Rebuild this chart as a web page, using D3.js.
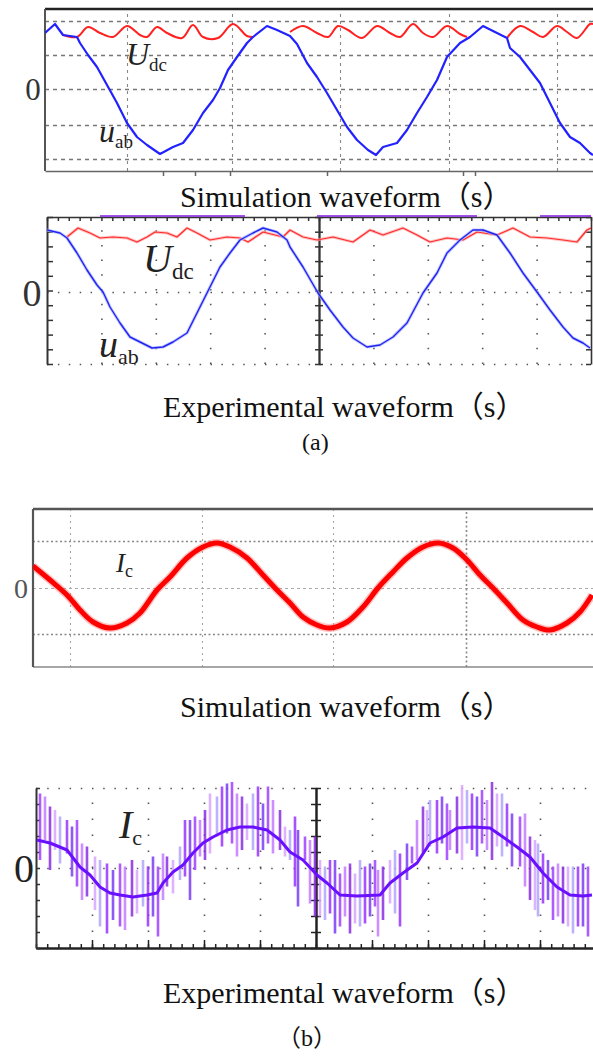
<!DOCTYPE html>
<html>
<head>
<meta charset="utf-8">
<script src="https://cdn.jsdelivr.net/npm/d3@7"></script>
<style>
  body { margin: 0; background: #fff; }
  svg { display: block; }
  .serif { font-family: "Liberation Serif", "DejaVu Serif", serif; }
  .cap { font-family: "Liberation Serif", "Noto Sans CJK SC", serif; fill: #111; }
</style>
</head>
<body>
<div id="chart"></div>
<script>
// ---- waveform samples (time in ms, voltage in V, current in A) ----

// (a) simulation: u_ab and U_dc
const uabSim = [[0,112],[1.0,130],[1.8,108],[3.2,104],[3.5,92],[4.3,68],[5.2,44],[6.2,8],[7.2,-28],[8.2,-68],
  [9.2,-96],[10.2,-112],[11.5,-130],[12.8,-116],[13.8,-108],[14.8,-82],[15.8,-48],[16.8,-22],[17.5,2],[18.3,38],
  [19.2,64],[20.2,92],[20.8,104],[22.2,126],[23.2,118],[24.5,106],[25.2,90],[26.2,52],[27.2,24],[28.2,-8],
  [29.2,-42],[30.2,-76],[31.2,-102],[32.3,-122],[33.1,-132],[33.8,-116],[35.2,-108],[36.2,-82],[37.2,-48],[38.2,-16],
  [39.2,18],[40.2,64],[41.5,92],[42.5,104],[43.8,126],[45.2,112],[46.2,102],[46.5,82],[47.5,64],[48.5,38],
  [49.5,12],[50.5,-28],[51.5,-68],[52.5,-96],[53.5,-108],[54.5,-128],[54.8,-132]];
const udcSim = [[1.8,108],[3.2,104],[4.3,124],[5.5,112],[6.8,104],[8.2,126],[9.5,108],[10.2,104],[11.2,124],[12.2,112],
  [13.7,102],[14.8,128],[15.8,104],[17.3,102],[18.8,130],[20.2,106],[20.8,104],[21.5,null],[24.5,114],[25.8,126],
  [27.2,112],[28.3,104],[29.3,126],[30.3,118],[31.7,102],[33.2,126],[34.5,112],[35.5,104],[36.8,130],[37.8,112],
  [38.8,104],[40.2,126],[41.5,110],[42.2,104],[44.0,null],[46.2,102],[47.5,126],[48.8,114],[49.8,104],[51.2,126],
  [52.2,114],[53.2,102],[54.5,130],[54.8,130]];

// (a) experiment: u_ab and U_dc
const uabExp = [[0,124],[1.3,118],[2.0,108],[3.0,78],[4.0,44],[5.0,14],[5.6,0],[6.3,-30],[7.3,-62],[8.3,-90],
  [9.3,-100],[10.5,-112],[11.6,-110],[12.6,-100],[14.0,-82],[15.0,-42],[16.3,10],[17.3,50],[18.3,78],[19.3,104],
  [20.6,118],[21.6,128],[23.0,120],[24.0,104],[24.3,90],[25.6,50],[27.1,-2],[28.3,-36],[29.6,-70],[30.6,-92],
  [32.0,-110],[33.3,-106],[34.6,-90],[36.0,-62],[37.6,-2],[39.0,38],[40.0,78],[41.3,104],[42.6,124],[43.6,124],
  [45.0,114],[46.3,78],[47.6,38],[49.0,0],[50.3,-36],[51.6,-70],[52.6,-92],[53.6,-102],[54.3,-112]];
const udcExp = [[2.0,110],[3.1,128],[4.3,118],[5.3,108],[6.6,110],[8.0,108],[9.0,100],[10.0,110],[10.8,120],[12.0,118],
  [13.0,110],[14.0,128],[15.0,118],[16.3,104],[18.0,110],[19.3,108],[20.1,100],[21.6,120],[23.6,110],[24.3,124],
  [25.6,110],[27.0,104],[28.6,110],[30.6,100],[32.3,124],[33.6,114],[35.6,128],[37.0,114],[38.3,100],[40.0,108],
  [41.6,104],[43.0,120],[45.0,114],[46.6,128],[48.3,110],[50.0,108],[51.6,104],[53.0,100],[54.0,124],[54.4,128]];
// clipped trace stuck on the top edge of the scope screen: [from, to]
const expTopClip = [[5.3,19.8],[27.0,43.0],[49.3,54.4]];

// (b) simulation: I_c
const icSim = [[0,4.4],[1.7,1.6],[3.4,-1.4],[4.7,-4.4],[6.0,-6.8],[7.7,-8.0],[9.4,-7.0],[10.7,-5.0],[12.4,-0.4],[13.7,2.2],
  [15.4,6.0],[17.0,8.2],[18.4,9.0],[19.7,8.2],[21.4,6.0],[23.0,2.6],[24.4,-0.4],[25.7,-3.0],[27.0,-5.8],[28.4,-7.4],
  [29.7,-8.0],[31.4,-6.8],[33.0,-3.8],[34.5,0],[36.0,3.2],[37.4,6.0],[39.0,8.2],[40.5,9.0],[42.0,8.0],[43.4,5.6],
  [44.7,2.6],[46.0,0],[47.4,-3.0],[49.0,-6.4],[50.4,-7.8],[51.7,-8.4],[53.4,-7.0],[54.7,-4.8],[55.9,-1.4]];

// (b) experiment: I_c mean trace and switching spikes [t, high, low]
const icExp = [[0.1,5.6],[1.4,5.0],[3.1,3.6],[4.4,0.2],[5.4,-1.4],[6.4,-3.8],[7.4,-5.0],[8.4,-5.4],[9.7,-5.8],[11.1,-5.4],
  [12.1,-5.0],[12.7,-3.0],[13.7,-0.8],[14.7,0.6],[15.7,3.0],[16.7,5.0],[17.7,6.2],[19.1,7.6],[20.4,8.2],[21.7,8.2],
  [23.1,7.6],[24.4,5.6],[25.4,3.2],[26.7,1.6],[28.1,-1.4],[29.1,-3.0],[30.4,-5.4],[32.1,-5.6],[34.4,-5.4],[35.4,-3.0],
  [36.7,-1.0],[38.1,1.0],[39.4,5.0],[40.7,6.2],[42.1,8.0],[43.7,8.2],[45.4,8.0],[46.7,6.2],[48.1,4.2],[49.4,2.2],
  [50.7,-1.0],[52.1,-3.8],[53.4,-5.4],[54.7,-5.6],[55.6,-5.4]];
const icExpSpikes = [[0.4,14.9,1.6],[0.9,14.3,5.6],[1.4,12.3,-0.4],[1.9,11.6,3.6],[2.4,10.3,0.9],[3.1,9.6,2.9],[3.6,8.3,-1.7],
  [4.1,9.6,-3.7],[4.6,4.9,-6.4],[5.1,4.3,-5.7],[5.9,2.3,-8.4],[6.4,1.6,-11.7],[7.1,0.9,-13.1],[7.7,-0.4,-10.4],
  [8.4,0.9,-11.7],[8.9,0.3,-12.4],[9.6,1.6,-9.7],[10.1,-0.4,-9.1],[10.7,1.6,-7.7],[11.2,0.3,-11.7],[11.7,2.3,-9.7],
  [12.2,0.3,-13.7],[12.7,2.9,-6.4],[13.1,2.3,-3.7],[13.7,1.6,-5.1],[14.4,4.3,-2.4],[14.9,9.6,-1.7],[15.4,9.6,-6.4],
  [15.9,10.3,-0.4],[16.4,9.6,2.3],[16.9,11.6,1.6],[17.4,14.9,2.9],[18.1,14.3,6.3],[18.6,16.3,4.3],[19.1,16.9,6.9],
  [19.6,17.6,4.9],[20.1,14.9,2.3],[20.6,14.3,3.6],[21.1,12.9,5.6],[21.7,14.9,3.6],[22.2,16.3,2.3],[22.7,12.9,3.6],
  [23.2,16.3,4.9],[23.7,13.6,2.9],[24.4,11.6,3.6],[24.9,8.3,2.3],[25.4,7.6,1.6],[25.9,10.3,-3.7],[26.2,7.6,-7.7],
  [26.9,6.3,1.6],[27.4,5.6,-7.1],[27.9,6.3,-9.7],[28.4,1.6,-9.7],[28.9,0.3,-10.4],[29.4,1.6,-9.1],[29.9,1.6,-13.1],
  [30.4,-1.1,-11.7],[30.9,0.3,-9.7],[31.4,0.9,-13.1],[31.9,-1.1,-11.1],[32.4,1.6,-11.7],[32.9,0.3,-11.1],[33.4,0.9,-9.7],
  [33.9,1.6,-7.7],[34.2,-0.4,-13.7],[34.7,0.3,-10.4],[35.4,1.6,-7.1],[35.9,3.6,-9.1],[36.4,2.9,-11.7],[37.1,4.9,-2.4],
  [37.6,4.3,0.9],[38.1,9.6,1.6],[38.7,12.3,2.9],[39.1,11.6,3.6],[39.4,13.6,4.3],[40.1,13.6,2.9],[40.6,14.3,4.9],
  [41.1,12.9,1.6],[41.4,11.6,3.6],[42.1,14.3,2.9],[42.6,16.6,1.6],[43.1,15.6,4.9],[43.6,14.9,3.6],[44.1,14.3,2.3],
  [44.6,15.6,4.9],[45.1,13.6,3.6],[45.6,17.3,1.6],[46.1,14.9,4.3],[46.6,14.9,2.3],[47.1,12.9,4.3],[47.6,10.9,0.3],
  [48.4,10.3,0.3],[48.9,10.9,-3.7],[49.4,6.3,-6.4],[49.9,5.6,-8.4],[50.2,4.9,-9.7],[50.7,2.9,-7.1],[51.2,1.6,-6.4],
  [51.7,0.3,-10.4],[52.2,0.9,-9.7],[52.7,0.3,-11.1],[53.2,0.3,-11.7],[53.7,0.3,-13.1],[54.2,0.3,-11.7],[54.7,0.9,-11.7],
  [55.2,0.3,-13.7]];

// grid positions
const gridSimA_T = [8.2, 18.7, 29.5, 40.4, 51.2];
const gridSimA_V = [-140, -72, 0, 68, 136];
const gridExpA_T = [5.44, 10.88, 16.32, 21.76, 32.64, 38.08, 43.52, 48.96];
const gridSimB_T = [3.7, 16.9, 30.0];
const gridSimB_T2 = [43.3];
const gridSimB_I = [-9.2, 9.4];
const gridExpB_T = [5.6, 11.2, 16.8, 22.4, 33.6, 39.2, 44.8, 50.4];
const simA_AxisTicks = [11.8, 15.0, 18.5, 28.2, 41.8, 43.0];

const captions = [
  { text: "Simulation waveform（s）", x: 180, y: 207, size: 30 },
  { text: "Experimental waveform（s）", x: 163, y: 417, size: 30 },
  { text: "(a)", x: 302, y: 450, size: 24 },
  { text: "Simulation waveform（s）", x: 180, y: 717, size: 30 },
  { text: "Experimental waveform（s）", x: 163, y: 1003, size: 30 },
  { text: "（b）", x: 277, y: 1046, size: 24 }
];

const spikeColors = ["#a040ff", "#c47aff", "#8a2be2", "#d7a6ff", "#b0a6ff", "#9933ff", "#7a3cf5"];

const W = 593, H = 1059;
const svg = d3.select("#chart").append("svg").attr("width", W).attr("height", H);
let clipN = 0;

function panel(box, xDomain, yDomain) {
  const x = d3.scaleLinear().domain(xDomain).range([box.left, box.right]);
  const y = d3.scaleLinear().domain(yDomain).range([box.bottom, box.top]);
  const id = "clip" + (++clipN);
  svg.append("clipPath").attr("id", id).append("rect")
    .attr("x", box.left).attr("y", box.top - 6)
    .attr("width", box.right - box.left).attr("height", box.bottom - box.top + 12);
  return { x, y, box, clip: `url(#${id})` };
}

function vGrid(p, values, color, dash, width) {
  svg.append("g")
    .attr("transform", `translate(0,${p.box.bottom})`)
    .call(d3.axisBottom(p.x).tickValues(values).tickSize(-(p.box.bottom - p.box.top)).tickFormat(""))
    .call(g => g.select(".domain").remove())
    .selectAll("line").attr("stroke", color).attr("stroke-dasharray", dash).attr("stroke-width", width);
}

function hGrid(p, values, color, dash, width) {
  svg.append("g")
    .attr("transform", `translate(${p.box.left},0)`)
    .call(d3.axisLeft(p.y).tickValues(values).tickSize(-(p.box.right - p.box.left)).tickFormat(""))
    .call(g => g.select(".domain").remove())
    .selectAll("line").attr("stroke", color).attr("stroke-dasharray", dash).attr("stroke-width", width);
}

function trace(p, data, color, width, opacity, curve) {
  svg.append("path")
    .datum(data)
    .attr("clip-path", p.clip)
    .attr("fill", "none")
    .attr("stroke", color)
    .attr("stroke-width", width)
    .attr("stroke-opacity", opacity || 1)
    .attr("stroke-linejoin", "round")
    .attr("d", d3.line().defined(d => d[1] !== null).curve(curve || d3.curveLinear)
      .x(d => p.x(d[0])).y(d => p.y(d[1])));
}

function styleAxis(g, color, width) {
  g.select(".domain").attr("stroke", color).attr("stroke-width", width);
  g.selectAll(".tick line").attr("stroke", color).attr("stroke-width", 1.5);
}

function label(x, y, main, sub, size, subSize, color) {
  const t = svg.append("text").attr("class", "serif").attr("x", x).attr("y", y).attr("fill", color || "#222");
  t.append("tspan").attr("font-style", "italic").attr("font-size", size).text(main);
  if (sub) t.append("tspan").attr("font-size", subSize).attr("dy", subSize * 0.3).text(sub);
}

// ---------------- (a) simulation ----------------
const p1 = panel({ left: 45, right: 593, top: 9, bottom: 171 }, [0, 54.8], [-164, 160]);
hGrid(p1, gridSimA_V, "#777", "4,4", 1.3);
vGrid(p1, gridSimA_T, "#888", "3,4", 1.1);
svg.append("g")
  .attr("transform", `translate(0,${p1.box.bottom})`)
  .call(d3.axisBottom(p1.x).tickValues(simA_AxisTicks).tickSize(5).tickSizeOuter(0).tickFormat(""))
  .call(g => styleAxis(g, "#666", 1.5));
svg.append("line").attr("x1", 45).attr("x2", 593).attr("y1", 9).attr("y2", 9).attr("stroke", "#222").attr("stroke-width", 2.5);
svg.append("line").attr("x1", 45).attr("x2", 45).attr("y1", 9).attr("y2", 171).attr("stroke", "#555").attr("stroke-width", 2);
trace(p1, udcSim, "#ff2020", 2, 1, d3.curveCatmullRom);
trace(p1, uabSim, "#2222ff", 2.2);
svg.append("text").attr("class", "serif").attr("x", 33).attr("y", p1.y(0) + 11).attr("text-anchor", "middle")
  .attr("font-size", 31).attr("fill", "#333").text("0");
label(126, 65, "U", "dc", 32, 19);
label(99, 142, "u", "ab", 32, 19);

// ---------------- (a) experiment ----------------
const p2 = panel({ left: 47, right: 591, top: 217, bottom: 364 }, [0, 54.4], [-144, 150]);
vGrid(p2, gridExpA_T, "#555", "1.5,13.2", 1.6);
hGrid(p2, [0, -144], "#555", "1.5,9.4", 1.6);
const minorT2 = d3.range(0, 54.41, 1.088);
const minorV2 = d3.range(-144, 150.1, 29.4);
svg.append("g").attr("transform", `translate(0,${p2.box.top})`)
  .call(d3.axisBottom(p2.x).tickValues(minorT2).tickSize(4).tickSizeOuter(0).tickFormat(""))
  .call(g => styleAxis(g, "#333", 1.6));
svg.append("g").attr("transform", `translate(${p2.box.left},0)`)
  .call(d3.axisRight(p2.y).tickValues(minorV2).tickSize(6).tickSizeOuter(0).tickFormat(""))
  .call(g => styleAxis(g, "#333", 2));
svg.append("g").attr("transform", `translate(${p2.box.right},0)`)
  .call(d3.axisLeft(p2.y).tickValues(minorV2).tickSize(5).tickSizeOuter(0).tickFormat(""))
  .call(g => styleAxis(g, "#333", 1.6));
[d3.axisLeft, d3.axisRight].forEach(ax => {
  svg.append("g").attr("transform", `translate(${p2.x(27.2)},0)`)
    .call(ax(p2.y).tickValues(minorV2).tickSize(4).tickSizeOuter(0).tickFormat(""))
    .call(g => styleAxis(g, "#333", 1.8));
});
svg.append("g").selectAll("line").data(expTopClip).join("line")
  .attr("x1", d => p2.x(d[0])).attr("x2", d => p2.x(d[1]))
  .attr("y1", p2.y(152)).attr("y2", p2.y(152))
  .attr("stroke", "#8a2be2").attr("stroke-width", 2).attr("stroke-opacity", 0.8);
trace(p2, udcExp, "#ff9a9a", 3, 0.6);
trace(p2, udcExp, "#ff2a2a", 1.2);
trace(p2, uabExp, "#a8b4ff", 3.2, 0.7);
trace(p2, uabExp, "#2323f0", 1.4);
svg.append("text").attr("class", "serif").attr("x", 32).attr("y", p2.y(0) + 14).attr("text-anchor", "middle")
  .attr("font-size", 38).attr("fill", "#333").text("0");
label(143, 272, "U", "dc", 40, 23);
label(99, 357, "u", "ab", 38, 22);

// ---------------- (b) simulation ----------------
const p3 = panel({ left: 33, right: 593, top: 509, bottom: 667 }, [0, 56], [-15.8, 15.8]);
hGrid(p3, gridSimB_I, "#888", "2,2.5", 1.5);
hGrid(p3, [0], "#aaa", "3,3", 1.1);
vGrid(p3, gridSimB_T, "#aaa", "2,4", 1.1);
vGrid(p3, gridSimB_T2, "#888", "2,2.5", 1.6);
svg.append("line").attr("x1", 33).attr("x2", 593).attr("y1", 509).attr("y2", 509).attr("stroke", "#555").attr("stroke-width", 2.5);
svg.append("line").attr("x1", 33).attr("x2", 593).attr("y1", 667).attr("y2", 667).attr("stroke", "#888").attr("stroke-width", 1.5);
svg.append("line").attr("x1", 33).attr("x2", 33).attr("y1", 509).attr("y2", 667).attr("stroke", "#555").attr("stroke-width", 2.2);
trace(p3, icSim, "#ff5050", 8, 0.35, d3.curveCatmullRom);
trace(p3, icSim, "#ff0000", 5, 1, d3.curveCatmullRom);
svg.append("text").attr("class", "serif").attr("x", 21).attr("y", p3.y(0) + 10).attr("text-anchor", "middle")
  .attr("font-size", 28).attr("fill", "#555").text("0");
label(116, 572, "I", "c", 27, 18);

// ---------------- (b) experiment ----------------
const p4 = panel({ left: 36, right: 596, top: 788, bottom: 948 }, [0, 56], [-16, 16]);
vGrid(p4, gridExpB_T, "#555", "1.5,14.5", 1.6);
hGrid(p4, [0, 16], "#555", "1.5,9.7", 1.6);
const minorT4 = d3.range(0, 56.1, 1.12);
const minorI4 = d3.range(-16, 16.1, 3.2);
svg.append("g").attr("transform", `translate(0,${p4.box.bottom})`)
  .call(d3.axisTop(p4.x).tickValues(minorT4).tickSize(4).tickSizeOuter(0).tickFormat(""))
  .call(g => styleAxis(g, "#222", 2));
svg.append("g").attr("transform", `translate(0,${p4.box.bottom})`)
  .call(d3.axisTop(p4.x).tickValues(gridExpB_T).tickSize(8).tickSizeOuter(0).tickFormat(""))
  .call(g => styleAxis(g, "#222", 2));
svg.append("g").attr("transform", `translate(${p4.box.left},0)`)
  .call(d3.axisRight(p4.y).tickValues(minorI4).tickSize(4).tickSizeOuter(0).tickFormat(""))
  .call(g => styleAxis(g, "#333", 2));
[d3.axisLeft, d3.axisRight].forEach(ax => {
  svg.append("g").attr("transform", `translate(${p4.x(28)},0)`)
    .call(ax(p4.y).tickValues(minorI4).tickSize(5).tickSizeOuter(0).tickFormat(""))
    .call(g => styleAxis(g, "#222", 2));
});
svg.append("g").attr("clip-path", p4.clip)
  .selectAll("line").data(icExpSpikes).join("line")
  .attr("x1", d => p4.x(d[0])).attr("x2", d => p4.x(d[0]))
  .attr("y1", d => p4.y(d[1])).attr("y2", d => p4.y(d[2]))
  .attr("stroke", (d, i) => spikeColors[i % spikeColors.length])
  .attr("stroke-width", 2.6)
  .attr("stroke-opacity", 0.85);
trace(p4, icExp, "#6a10ff", 3);
svg.append("text").attr("class", "serif").attr("x", 24).attr("y", p4.y(0) + 14).attr("text-anchor", "middle")
  .attr("font-size", 40).attr("fill", "#222").text("0");
label(119, 838, "I", "c", 40, 22);

// captions
svg.append("g").selectAll("text").data(captions).join("text")
  .attr("class", "cap")
  .attr("x", d => d.x).attr("y", d => d.y)
  .attr("font-size", d => d.size)
  .text(d => d.text);
</script>
</body>
</html>
